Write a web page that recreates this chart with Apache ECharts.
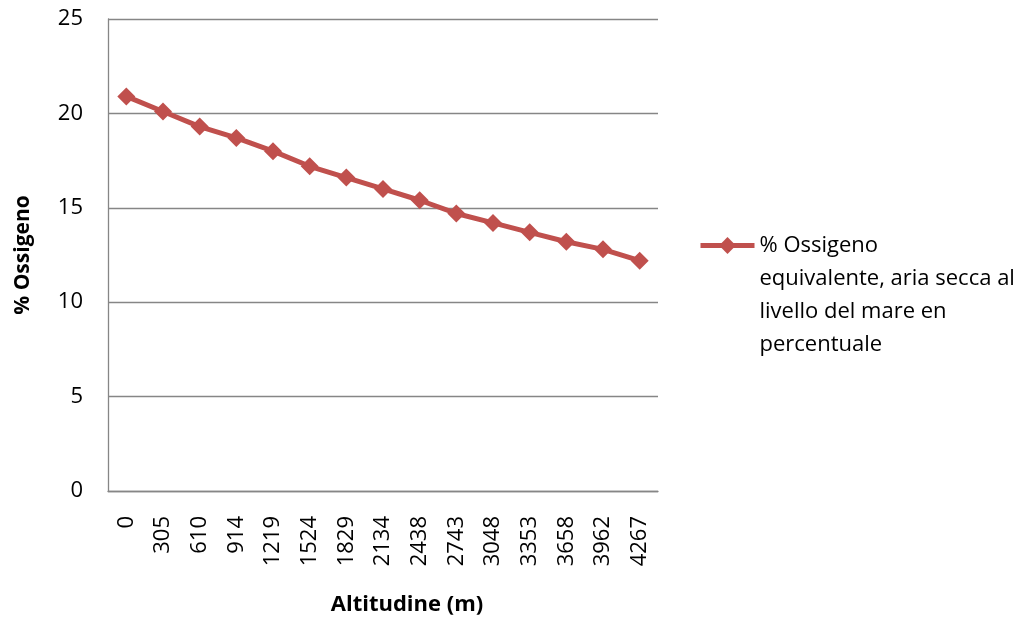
<!DOCTYPE html>
<html>
<head>
<meta charset="utf-8">
<script src="https://cdn.jsdelivr.net/npm/echarts@6/dist/echarts.min.js"></script>
<style>
  html, body { margin: 0; padding: 0; background: #ffffff; }
  #chart { width: 1032px; height: 626px; }
</style>
</head>
<body>
<div id="chart"></div>
<script>
// Altitude (m) and equivalent oxygen percentage at sea level, dry air
const altitudes = ['0', '305', '610', '914', '1219', '1524', '1829', '2134', '2438', '2743', '3048', '3353', '3658', '3962', '4267'];
const oxygenPct = [20.9, 20.1, 19.3, 18.7, 18.0, 17.2, 16.6, 16.0, 15.4, 14.7, 14.2, 13.7, 13.2, 12.8, 12.2];
const seriesName = '% Ossigeno\nequivalente, aria secca al\nlivello del mare en\npercentuale';
const xTitle = 'Altitudine (m)';
const yTitle = '% Ossigeno';

const FONT = '"Open Sans", "Liberation Sans", sans-serif';
const RED = '#C0504D';
const GRID = '#868686';

const chart = echarts.init(document.getElementById('chart'), null, { renderer: 'canvas' });

chart.setOption({
  animation: false,
  backgroundColor: '#ffffff',
  textStyle: { fontFamily: FONT },
  grid: { left: 108, top: 19, right: 374, bottom: 135, containLabel: false },
  xAxis: {
    type: 'category',
    data: altitudes,
    boundaryGap: true,
    name: xTitle,
    nameLocation: 'middle',
    nameGap: 103,
    nameTextStyle: { fontFamily: FONT, fontSize: 22, fontWeight: 'bold', color: '#000', padding: [0, 0, 0, 48] },
    axisLine: { show: true, lineStyle: { color: GRID, width: 1.3 } },
    axisTick: { show: false },
    axisLabel: { rotate: 90, margin: 25, fontFamily: FONT, fontSize: 22, color: '#000' },
    splitLine: { show: false }
  },
  yAxis: {
    type: 'value',
    min: 0,
    max: 25,
    interval: 5,
    name: yTitle,
    nameLocation: 'middle',
    nameGap: 74,
    nameTextStyle: { fontFamily: FONT, fontSize: 21, fontWeight: 'bold', color: '#000' },
    axisLine: { show: true, lineStyle: { color: GRID, width: 1.3 } },
    axisTick: { show: false },
    axisLabel: { margin: 25, fontFamily: FONT, fontSize: 22, color: '#000' },
    splitLine: { show: true, lineStyle: { color: GRID, width: 1.3 } }
  },
  legend: {
    left: 698,
    top: 130,
    padding: 0,
    orient: 'vertical',
    itemWidth: 54,
    itemHeight: 21,
    itemGap: 5,
    // blank lines above keep the first line level with the legend marker
    formatter: name => '\n\n\n' + name,
    lineStyle: { width: 5 },
    textStyle: { fontFamily: FONT, fontSize: 22, color: '#000', lineHeight: 33 },
    data: [seriesName]
  },
  series: [{
    name: seriesName,
    type: 'line',
    data: oxygenPct,
    symbol: 'diamond',
    symbolSize: 18,
    lineStyle: { color: RED, width: 5 },
    itemStyle: { color: RED },
    emphasis: { disabled: true }
  }]
});
</script>
</body>
</html>
